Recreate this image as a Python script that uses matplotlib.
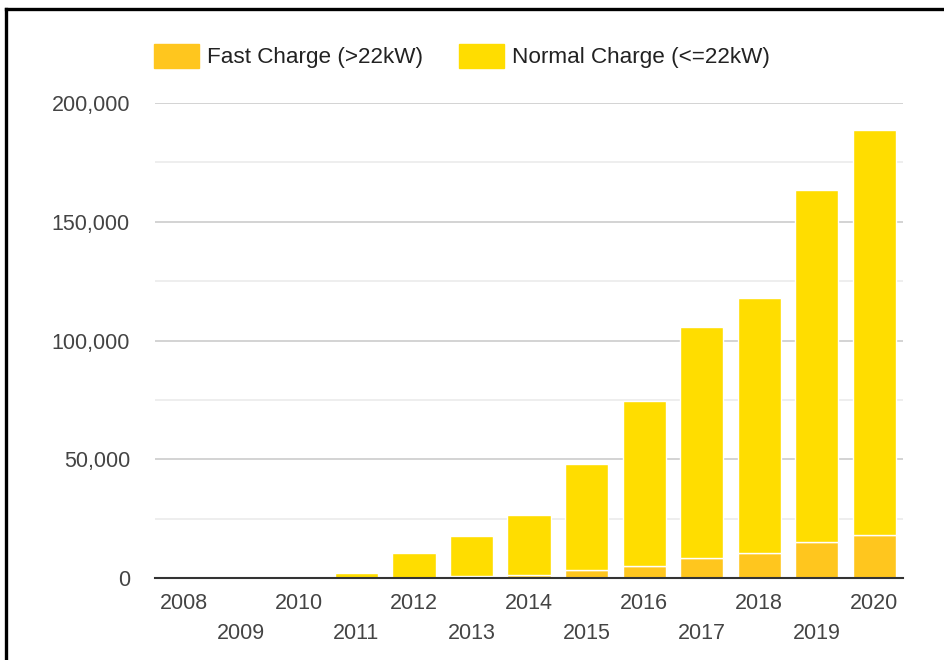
import numpy as np
import matplotlib.pyplot as plt
from matplotlib.lines import Line2D
from matplotlib.patches import Patch
from matplotlib.ticker import FuncFormatter, MultipleLocator

plt.rcParams['font.family'] = ['Liberation Sans', 'DejaVu Sans']

# Datos
years = ['2008', '2009', '2010', '2011', '2012', '2013', '2014',
         '2015', '2016', '2017', '2018', '2019', '2020']
total = [0, 100, 300, 2000, 10600, 17800, 26500,
         48000, 74500, 105700, 117900, 163400, 188600]
fast = [0, 0, 0, 50, 200, 700, 1400,
        3200, 4900, 8600, 10700, 15300, 18100]
normal = [t - f for t, f in zip(total, fast)]

c_fast = '#ffc61e'
c_normal = '#ffdd00'
txt = '#444444'

fig = plt.figure(figsize=(9.45, 6.6), dpi=100)
ax = fig.add_axes([0.164, 0.1242, 0.7916, 0.7197])

x = np.arange(len(years))
ax.bar(x, fast, width=0.75, color=c_fast, edgecolor='white', linewidth=1, zorder=3)
ax.bar(x, normal, width=0.75, bottom=fast, color=c_normal, edgecolor='white',
       linewidth=1, zorder=3)

ax.set_xlim(-0.5, len(years) - 0.5)
ax.set_ylim(0, 200000)
ax.yaxis.set_major_locator(MultipleLocator(50000))
ax.yaxis.set_minor_locator(MultipleLocator(25000))
ax.yaxis.set_major_formatter(FuncFormatter(lambda v, p: '{:,.0f}'.format(v)))
ax.grid(axis='y', which='major', color='#cccccc', linewidth=1.2, zorder=0)
ax.grid(axis='y', which='minor', color='#ebebeb', linewidth=1.2, zorder=0)
for s in ['top', 'right', 'left']:
    ax.spines[s].set_visible(False)
ax.spines['bottom'].set_color('#333333')
ax.spines['bottom'].set_linewidth(1.5)
ax.spines['bottom'].set_zorder(4)

ax.set_xticks(x)
ax.set_xticklabels([y if i % 2 == 0 else '\n' + y for i, y in enumerate(years)],
                   linespacing=1.55)
ax.tick_params(axis='x', length=0, pad=11, labelsize=15.5, labelcolor=txt)
ax.tick_params(axis='y', which='both', length=0, pad=18, labelsize=15.5, labelcolor=txt)

handles = [Patch(color=c_fast), Patch(color=c_normal)]
fig.legend(handles, ['Fast Charge (>22kW)', 'Normal Charge (<=22kW)'],
           loc='center left', bbox_to_anchor=(0.163, 0.915), ncol=2, frameon=False,
           fontsize=16.2, handlelength=2.0, handleheight=1.3, handletextpad=0.36,
           columnspacing=1.6, borderpad=0, borderaxespad=0, labelcolor='#222222')

# borde negro arriba e izquierda
fig.add_artist(Line2D([0.006, 1.0], [0.986, 0.986], color='black', lw=2.4))
fig.add_artist(Line2D([0.006, 0.006], [0.0, 0.986], color='black', lw=2.4))

fig.savefig('out.png', dpi=100)
